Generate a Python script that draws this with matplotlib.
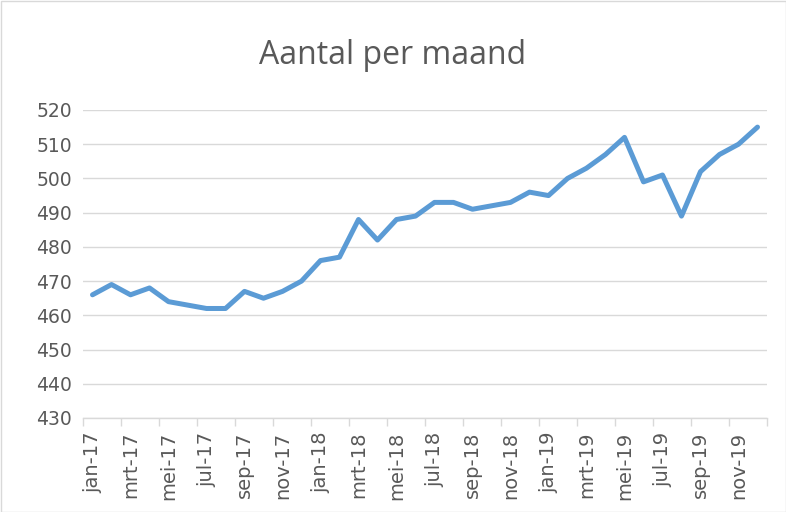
import matplotlib
matplotlib.use("Agg")
import matplotlib.pyplot as plt
from matplotlib.patches import Rectangle

plt.rcParams["font.family"] = ["DejaVu Sans"]

months = ["jan", "feb", "mrt", "apr", "mei", "jun", "jul", "aug", "sep", "okt", "nov", "dec"]
years = ["17", "18", "19"]
categories = [f"{m}-{y}" for y in years for m in months]
values = [466, 469, 466, 468, 464, 463, 462, 462, 467, 465, 467, 470,
          476, 477, 488, 482, 488, 489, 493, 493, 491, 492, 493, 496,
          495, 500, 503, 507, 512, 499, 501, 489, 502, 507, 510, 515]
yticks = list(range(430, 521, 10))

text_color = "#595959"
grid_color = "#D9D9D9"
line_color = "#5B9BD5"

fig = plt.figure(figsize=(7.86, 5.12), dpi=100)
ax = fig.add_axes([83/786, 1-418/512, (767-83)/786, (418-110)/512])

x = list(range(len(values)))
ax.plot(x, values, color=line_color, lw=3.6, solid_capstyle="round", solid_joinstyle="round", zorder=3)

ax.set_xlim(-0.5, len(values)-0.5)
ax.set_ylim(430, 520)
ax.set_yticks(yticks)
ax.yaxis.grid(True, color=grid_color, lw=1.0)
ax.set_axisbelow(True)
for s in ["top", "right", "left"]:
    ax.spines[s].set_visible(False)
ax.spines["bottom"].set_color(grid_color)
ax.spines["bottom"].set_linewidth(1.0)

ax.set_xticks(x[::2])
ax.set_xticklabels(categories[::2], rotation=90, color=text_color, fontsize=14)
ax.set_xticks([i - 0.5 for i in range(0, len(values)+1, 2)], minor=True)
ax.tick_params(axis="x", which="major", length=0, pad=10)
ax.tick_params(axis="x", which="minor", length=6, color=grid_color, width=1.0)
ax.tick_params(axis="y", length=0, labelcolor=text_color, labelsize=13.5, pad=8)

fig.text(0.5, 1-56/512, "Aantal per maand", ha="center", va="center", fontsize=23,
         color=text_color, family=["Open Sans", "DejaVu Sans"])
fig.patches.append(Rectangle((0.5/786, 0.5/512), 1-1/786, 1-1/512, transform=fig.transFigure,
                             fill=False, edgecolor=grid_color, lw=1.0))

fig.savefig("out.png", dpi=100)
